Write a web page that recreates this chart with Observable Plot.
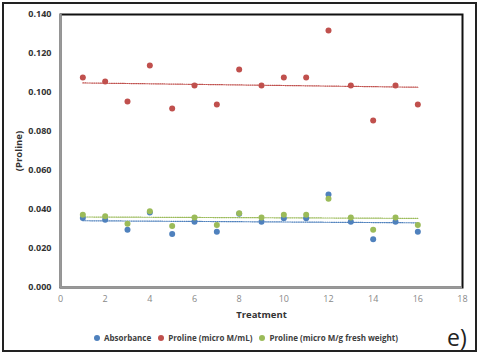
<!DOCTYPE html>
<html>
<head>
<meta charset="utf-8">
<script src="https://cdn.jsdelivr.net/npm/d3@7"></script>
<script src="https://cdn.jsdelivr.net/npm/@observablehq/plot@0.6"></script>
<style>
  html, body { margin: 0; padding: 0; background: #fff; }
  #wrap { position: relative; width: 480px; height: 357px; overflow: hidden; font-family: "Open Sans", sans-serif; }
  #border { position: absolute; left: 2px; top: 2px; width: 475px; height: 350px; box-sizing: border-box; border: 2px solid #222; pointer-events: none; }
  #chart { position: absolute; left: 0; top: 0; }
  #legend { position: absolute; left: 94px; top: 332px; display: flex; align-items: center; font-size: 8px; font-weight: 700; color: #404040; white-space: nowrap; }
  #legend .item { display: flex; align-items: center; margin-right: 7px; }
  #legend .sw { width: 6px; height: 6px; border-radius: 50%; margin-right: 4px; }
  #tag { position: absolute; left: 447px; top: 321px; font-size: 23px; color: #222; }
</style>
</head>
<body>
<div id="wrap">
  <div id="chart"></div>
  <div id="legend"></div>
  <div id="tag">e)</div>
  <div id="border"></div>
</div>
<script>
const treatments = [1,2,3,4,5,6,7,8,9,10,11,12,13,14,15,16];
const absorbance = [0.0357,0.0347,0.0296,0.0385,0.0275,0.0337,0.0286,0.0378,0.0337,0.0355,0.0355,0.0477,0.0337,0.0248,0.0337,0.0286];
const prolineML = [0.1077,0.1056,0.0954,0.1138,0.0918,0.1036,0.0938,0.1118,0.1036,0.1077,0.1077,0.1318,0.1036,0.0856,0.1036,0.0938];
const prolineG = [0.0373,0.0366,0.0327,0.0391,0.0316,0.0359,0.0321,0.0381,0.0359,0.0373,0.0373,0.0455,0.0359,0.0296,0.0359,0.0321];
const seriesNames = ["Absorbance", "Proline (micro M/mL)", "Proline (micro M/g fresh weight)"];
const seriesColors = ["#4f81bd", "#c0504d", "#9bbb59"];
const xTicks = [0,2,4,6,8,10,12,14,16,18];
const yTicks = [0,0.02,0.04,0.06,0.08,0.1,0.12,0.14];

const seriesValues = [absorbance, prolineML, prolineG];
const data = seriesValues.map((vals, s) => treatments.map((t, i) => ({t, v: vals[i], s: seriesNames[s]})));

const marks = [];
seriesValues.forEach((vals, s) => {
  marks.push(Plot.linearRegressionY(data[s], {x: "t", y: "v", ci: 0, stroke: seriesColors[s], strokeWidth: 1.2, strokeDasharray: "1,1.2"}));
});
seriesValues.forEach((vals, s) => {
  marks.push(Plot.dot(data[s], {x: "t", y: "v", r: 3, fill: seriesColors[s], stroke: "none"}));
});

const chart = Plot.plot({
  width: 480,
  height: 322,
  marginLeft: 60,
  marginRight: 18,
  marginTop: 14,
  marginBottom: 35,
  style: {fontFamily: "Open Sans, sans-serif", background: "transparent"},
  x: {domain: [0, 18], ticks: xTicks, tickSize: 0, tickPadding: 8, label: "Treatment", labelAnchor: "center", labelOffset: 30, labelArrow: "none"},
  y: {domain: [0, 0.14], ticks: yTicks, tickSize: 0, tickPadding: 9, tickFormat: d3.format(".3f"), label: "(Proline)", labelAnchor: "center", labelOffset: 45, labelArrow: "none"},
  marks: [
    Plot.frame({stroke: "#111", strokeWidth: 2}),
    Plot.ruleX([0], {stroke: "#999", strokeWidth: 2.5}),
    Plot.ruleY([0], {stroke: "#999", strokeWidth: 2.5}),
    ...marks
  ]
});
document.getElementById("chart").appendChild(chart);

const svg = d3.select(chart);
svg.selectAll("[aria-label='x-axis tick label'] text").attr("fill", "#888").style("font-size", "9px");
svg.selectAll("[aria-label='y-axis tick label'] text").attr("fill", "#333").style("font-size", "9px").style("font-weight", "700");
svg.selectAll("[aria-label='x-axis label'] text, [aria-label='y-axis label'] text").attr("fill", "#333").style("font-size", "9.5px").style("font-weight", "700");

const legend = document.getElementById("legend");
seriesNames.forEach((n, i) => {
  const item = document.createElement("div");
  item.className = "item";
  const sw = document.createElement("div");
  sw.className = "sw";
  sw.style.background = seriesColors[i];
  item.appendChild(sw);
  item.appendChild(document.createTextNode(n));
  legend.appendChild(item);
});
</script>
</body>
</html>
